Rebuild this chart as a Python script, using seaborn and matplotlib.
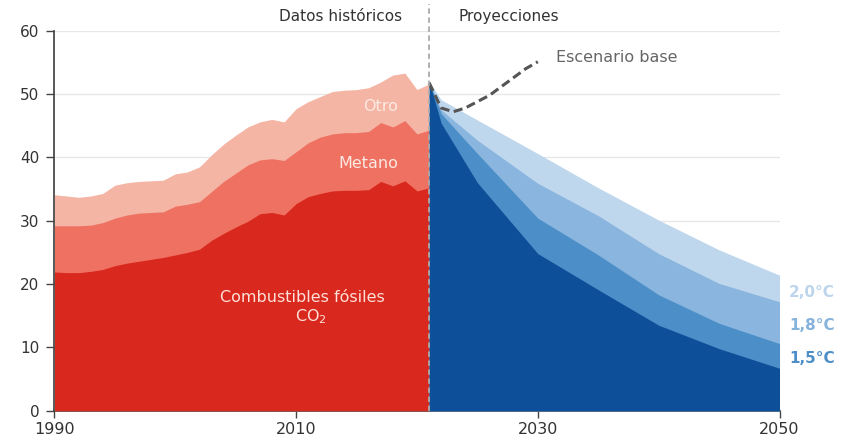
import numpy as np
import pandas as pd
import matplotlib
matplotlib.use("Agg")
import matplotlib.pyplot as plt
import seaborn as sns

# datos históricos (Gt CO2eq)
hist_years = list(range(1990, 2022))
co2_fosil = [21.9, 21.8, 21.8, 22.0, 22.3, 22.9, 23.3, 23.6, 23.9, 24.2,
             24.6, 25.0, 25.5, 26.9, 28.0, 29.0, 29.9, 31.1, 31.3, 30.9,
             32.7, 33.8, 34.3, 34.7, 34.8, 34.8, 34.9, 36.2, 35.5, 36.3,
             34.7, 35.2]
metano_top = [29.2, 29.2, 29.2, 29.3, 29.7, 30.4, 30.9, 31.2, 31.3, 31.4,
              32.3, 32.6, 33.0, 34.6, 36.2, 37.5, 38.8, 39.6, 39.8, 39.5,
              40.9, 42.3, 43.2, 43.7, 43.9, 43.9, 44.1, 45.5, 44.8, 45.8,
              43.7, 44.3]
otro_top = [34.1, 33.9, 33.7, 33.9, 34.3, 35.6, 36.0, 36.2, 36.3, 36.4,
            37.4, 37.7, 38.5, 40.4, 42.1, 43.5, 44.8, 45.6, 46.0, 45.6,
            47.7, 48.8, 49.6, 50.4, 50.6, 50.7, 51.0, 51.9, 53.0, 53.3,
            50.7, 51.6]

# proyecciones
proj_years = [2021, 2022, 2025, 2030, 2035, 2040, 2045, 2050]
esc_20 = [52.0, 49.1, 45.9, 40.6, 35.2, 30.1, 25.4, 21.4]
esc_18 = [52.0, 47.5, 42.7, 35.9, 30.8, 24.8, 20.1, 17.2]
esc_15 = [52.0, 46.9, 40.6, 30.4, 24.6, 18.3, 13.8, 10.6]
esc_min = [52.0, 45.4, 36.0, 24.8, 19.1, 13.5, 9.8, 6.7]

base_years = [2021, 2022, 2023, 2024, 2025, 2026, 2027, 2028, 2029, 2030]
base_vals = [51.8, 47.8, 47.2, 47.8, 48.8, 49.8, 51.2, 52.6, 54.0, 55.1]

sns.set_theme(style="white")
plt.rcParams['font.family'] = ['DejaVu Sans']

fig = plt.figure(figsize=(8.46, 4.43), dpi=100)
ax = fig.add_axes([0.0644, 0.0729, 0.857, 0.8578])

# rojos
ax.fill_between(hist_years, 0, otro_top, color='#f5b5a5', lw=0, zorder=2)
ax.fill_between(hist_years, 0, metano_top, color='#ee7162', lw=0, zorder=3)
ax.fill_between(hist_years, 0, co2_fosil, color='#d9281d', lw=0, zorder=4)

# azules
ax.fill_between(proj_years, 0, esc_20, color='#bfd7ed', lw=0, zorder=2)
ax.fill_between(proj_years, 0, esc_18, color='#89b5de', lw=0, zorder=3)
ax.fill_between(proj_years, 0, esc_15, color='#4b8ec8', lw=0, zorder=4)
ax.fill_between(proj_years, 0, esc_min, color='#0d4f98', lw=0, zorder=5)

base = pd.DataFrame({'year': base_years, 'val': base_vals})
sns.lineplot(data=base, x='year', y='val', ax=ax, color='#555555', lw=2.2,
             linestyle=(0, (3, 1.5)), zorder=6)

ax.axvline(2021, ymin=0, ymax=1.07, color='#aaaaaa', lw=1.3,
           linestyle=(0, (3, 2)), clip_on=False, zorder=7)

ax.set_xlim(1990, 2050)
ax.set_ylim(0, 60)
ax.set_xticks([1990, 2010, 2030, 2050])
ax.set_yticks(range(0, 61, 10))
ax.set_xlabel('')
ax.set_ylabel('')
ax.yaxis.grid(True, color='#e6e6e6', lw=0.9)
ax.set_axisbelow(True)
for s in ['top', 'right']:
    ax.spines[s].set_visible(False)
ax.spines['left'].set_color('#444444')
ax.spines['bottom'].set_color('#444444')
ax.spines['left'].set_zorder(8)
ax.tick_params(axis='y', length=6, width=1, color='#444444', labelsize=11,
               labelcolor='#333333', pad=5, left=True)
ax.tick_params(axis='x', length=5, width=1, color='#444444', labelsize=11.5,
               labelcolor='#333333', pad=3, bottom=True)

ax.text(2017.0, 48.0, 'Otro', color='#fde9e3', fontsize=11.5, ha='center', va='center', zorder=9)
ax.text(2016.0, 39.1, 'Metano', color='#fde9e3', fontsize=11.5, ha='center', va='center', zorder=9)
ax.text(2010.5, 17.8, 'Combustibles fósiles', color='#fde0d8', fontsize=11.5, ha='center', va='center', zorder=9)
ax.text(2011.2, 14.8, 'CO$_2$', color='#fde0d8', fontsize=11.5, ha='center', va='center', zorder=9)

ax.text(2031.5, 55.8, 'Escenario base', color='#666666', fontsize=11.5, ha='left', va='center')
ax.text(2018.8, 62.3, 'Datos históricos', color='#333333', fontsize=11, ha='right', va='center', clip_on=False)
ax.text(2023.4, 62.3, 'Proyecciones', color='#333333', fontsize=11, ha='left', va='center', clip_on=False)

ax.text(2050.8, 18.7, '2,0°C', color='#bcd4ec', fontsize=11, fontweight='bold', ha='left', va='center', clip_on=False)
ax.text(2050.8, 13.5, '1,8°C', color='#86b3dc', fontsize=11, fontweight='bold', ha='left', va='center', clip_on=False)
ax.text(2050.8, 8.3, '1,5°C', color='#4d8ec6', fontsize=11, fontweight='bold', ha='left', va='center', clip_on=False)

fig.savefig('out.png', dpi=100)
